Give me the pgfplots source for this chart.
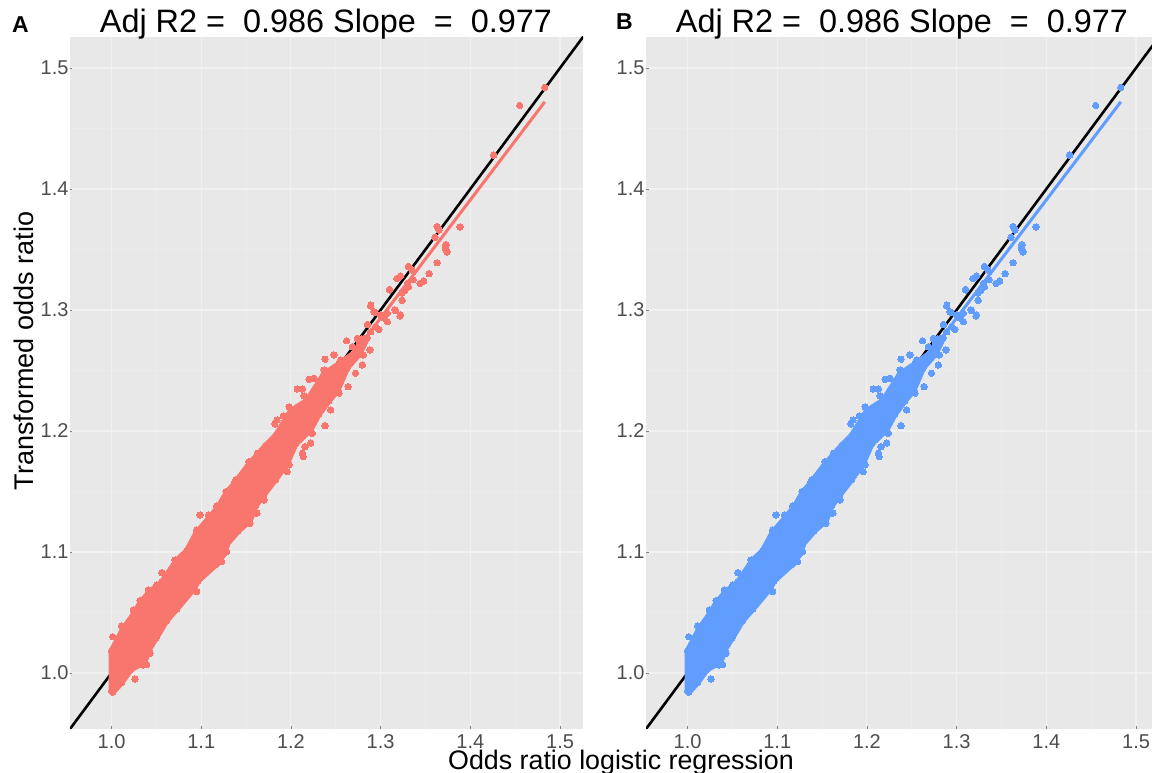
\documentclass[border=0pt]{standalone}
\usepackage{pgfplots}
\usepackage{pgfplotstable}
\pgfplotsset{compat=1.18}
\usepackage{fontspec}
\setmainfont{Liberation Sans}
\definecolor{panelbg}{HTML}{E8E8E8}
\definecolor{gridmaj}{HTML}{F1F1F1}
\definecolor{gridmin}{HTML}{ECECEC}
\definecolor{ticktxt}{HTML}{4D4D4D}
\definecolor{redpt}{HTML}{F8766D}
\definecolor{bluept}{HTML}{619CFF}
\pgfplotstableread{
x y
1.000 0.985
1.000 1.018
1.0134 1.0368
1.0263 1.050
1.032 1.0578
1.043 1.0672
1.056 1.075
1.0728 1.093
1.084 1.101
1.095 1.116
1.1096 1.1286
1.119 1.137
1.1285 1.149
1.1365 1.156
1.153 1.172
1.172 1.188
1.183 1.196
1.200 1.2165
1.218 1.225
1.237 1.247
1.2537 1.2553
1.272 1.265
1.279 1.276
1.285 1.277
1.276 1.2634
1.2628 1.2524
1.2516 1.2332
1.2423 1.225
1.231 1.2138
1.222 1.2014
1.205 1.189
1.196 1.174
1.183 1.160
1.170 1.1477
1.1605 1.138
1.154 1.1257
1.1413 1.1175
1.128 1.106
1.1264 1.0995
1.117 1.090
1.0967 1.0764
1.091 1.069
1.0725 1.0527
1.061 1.043
1.050 1.0293
1.041 1.0188
1.037 1.0092
1.0216 1.003
1.011 0.992
1.0013 0.984
}\cloud
\pgfplotstableread{
x y
1.483 1.484
1.455 1.469
1.426 1.428
1.3885 1.3686
1.3606 1.360
1.363 1.369
1.365 1.366
1.373 1.354
1.372 1.351
1.374 1.348
1.363 1.339
1.354 1.330
1.348 1.324
1.344 1.322
1.331 1.336
1.335 1.333
1.322 1.328
1.318 1.326
1.310 1.317
1.324 1.314
1.324 1.308
1.336 1.325
1.331 1.319
1.327 1.316
1.330 1.322
1.322 1.296
1.316 1.300
1.289 1.304
1.294 1.298
1.303 1.294
1.238 1.2044
1.2138 1.1788
1.2127 1.1816
1.196 1.1664
1.222 1.190
1.2157 1.187
1.170 1.143
1.1915 1.2124
1.182 1.2058
1.1845 1.209
1.207 1.2347
1.2127 1.2347
1.2146 1.229
1.2202 1.2427
1.2258 1.2435
1.238 1.2593
1.248 1.2628
1.2637 1.2366
1.272 1.2477
1.2796 1.2545
1.2807 1.2628
1.262 1.2746
1.2685 1.2697
1.274 1.2766
1.288 1.267
1.2853 1.288
1.289 1.3033
1.2926 1.2986
1.298 1.284
1.3075 1.2903
1.3168 1.2994
1.3216 1.295
1.324 1.308
1.310 1.3165
1.0013 1.030
1.0987 1.1306
1.026 0.995
1.039 1.007
1.035 1.0066
1.056 1.083
1.0114 1.0388
1.0243 1.052
1.0318 1.0598
1.041 1.0686
1.0504 1.0727
1.0708 1.0934
1.095 1.1182
1.108 1.1306
1.1173 1.138
1.1277 1.1498
1.043 1.0163
1.095 1.0672
1.1228 1.092
1.1284 1.1002
1.1544 1.1237
1.162 1.132
1.3038 1.2934
1.3075 1.2972
1.300 1.2959
1.2945 1.2862
1.289 1.282
1.2815 1.2752
1.276 1.2738
1.270 1.2642
1.1737 1.1884
1.1625 1.1816
1.1533 1.1746
1.1385 1.1595
1.198 1.220
1.2369 1.2504
1.2555 1.2587
1.198 1.172
1.2239 1.198
1.2443 1.2174
1.2536 1.2312
}\outliers
\pgfplotsset{
  panel/.style={
    scale only axis,
    anchor=south west,
    height=692pt,
    xmin=0.9537, ymin=0.9537, ymax=1.5256,
    xtick={1,1.1,1.2,1.3,1.4,1.5},
    ytick={1,1.1,1.2,1.3,1.4,1.5},
    xticklabels={1.0,1.1,1.2,1.3,1.4,1.5},
    yticklabels={1.0,1.1,1.2,1.3,1.4,1.5},
    minor tick num=1,
    grid=both,
    major grid style={gridmaj,line width=1.1pt},
    minor grid style={gridmin,line width=0.6pt},
    axis background/.style={fill=panelbg},
    axis line style={draw=none},
    tick style={ticktxt!70,line width=0.6pt},
    major tick length=2.5pt,
    minor tick length=0pt,
    tick pos=left,
    tick label style={font=\fontsize{20}{22}\selectfont,text=ticktxt},
    xticklabel style={inner ysep=0pt, yshift=-5.3pt},
    yticklabel style={xshift=2pt},
    /pgf/number format/assume math mode=true,
  },
  pts/.style={only marks, mark=*, mark size=3.2pt, color=#1, mark options={solid, draw=#1, fill=#1, line width=0pt}},
}
\newcommand{\panelplots}[1]{%
  \addplot[black, line width=2.6pt] coordinates {(0.95,0.95) (1.53,1.53)};
  \addplot[fill=#1, draw=#1, line width=6pt, line join=round] table[x=x,y=y] {\cloud} -- cycle;
  \addplot[pts=#1] table[x=x,y=y] {\cloud};
  \addplot[pts=#1] table[x=x,y=y] {\outliers};
  \addplot[#1, line width=3pt] coordinates {(1.0,1.0005) (1.483,1.472)};
}
\begin{document}
\begin{tikzpicture}[x=1pt,y=1pt]
\path[use as bounding box] (0,0) rectangle (1152,773);
\begin{axis}[panel, at={(70pt,44pt)}, width=513pt, xmax=1.5256]
\panelplots{redpt}
\end{axis}
\begin{axis}[panel, at={(646pt,44pt)}, width=506pt, xmax=1.5178]
\panelplots{bluept}
\end{axis}
\node[anchor=base, font=\fontsize{32.4}{34}\selectfont] at (326,740) {Adj R2 =\ \ 0.986 Slope\ \ =\ \ 0.977};
\node[anchor=base, font=\fontsize{32.4}{34}\selectfont] at (902,740) {Adj R2 =\ \ 0.986 Slope\ \ =\ \ 0.977};
\node[anchor=base west, font=\fontsize{23}{25}\selectfont\bfseries, inner sep=0pt] at (12,740) {A};
\node[anchor=base west, font=\fontsize{23}{25}\selectfont\bfseries, inner sep=0pt] at (616,743) {B};
\node[anchor=base, inner sep=0pt, font=\fontsize{26.8}{29}\selectfont] at (621,3.5) {Odds ratio logistic regression};
\node[anchor=base, rotate=90, font=\fontsize{27}{29}\selectfont] at (33,422) {Transformed odds ratio};
\end{tikzpicture}
\end{document}
